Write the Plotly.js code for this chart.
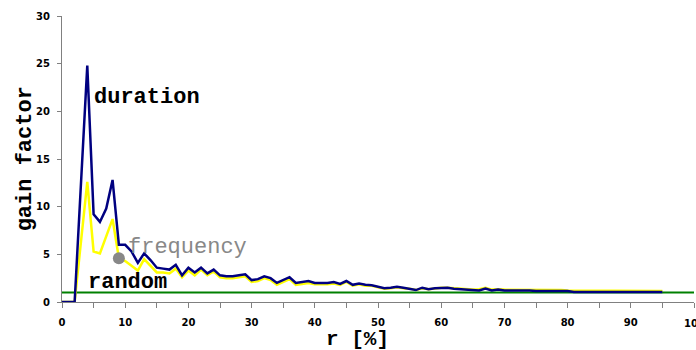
<!DOCTYPE html>
<html>
<head>
<meta charset="utf-8">
<script src="https://cdn.plot.ly/plotly-3.0.1.min.js"></script>
<style>html,body{margin:0;padding:0;background:#fff;}#chart{width:696px;height:350px;}</style>
</head>
<body>
<div id="chart"></div>
<script>
// r [%] values
const r = [0,1,2,4,5,6,7,8,9,10,11,12,13,14,15,16,17,18,19,20,21,22,23,24,25,26,27,28,29,30,
  31,32,33,34,35,36,37,38,39,40,41,42,43,44,45,46,47,48,49,50,51,52,53,54,55,56,57,58,59,60,
  61,62,63,64,65,66,67,68,69,70,71,72,73,74,75,76,77,78,79,80,81,82,83,84,85,86,87,88,89,90,
  91,92,93,94,95];
const duration = [0,0,0,24.8,9.2,8.4,9.8,12.8,6.0,6.0,5.3,4.1,5.1,4.4,3.6,3.5,3.4,3.9,2.8,3.6,3.1,3.6,3.0,3.4,2.8,2.7,2.7,2.8,2.9,2.3,
  2.4,2.7,2.5,2.0,2.3,2.6,2.0,2.1,2.2,2.0,2.0,2.0,2.1,1.9,2.2,1.8,1.95,1.8,1.75,1.6,1.45,1.5,1.6,1.5,1.4,1.25,1.5,1.35,1.45,1.5,
  1.5,1.4,1.35,1.3,1.2,1.2,1.4,1.2,1.3,1.2,1.2,1.2,1.25,1.2,1.15,1.15,1.15,1.15,1.15,1.15,1.05,1.05,1.05,1.05,1.05,1.05,1.05,1.1,1.1,1.05,
  1.05,1.05,1.05,1.05,1.05];
const frequency = [0,0,0,12.6,5.3,5.1,6.9,8.7,4.6,4.3,3.8,3.3,4.5,3.8,3.1,3.1,3.0,3.5,2.6,3.3,2.8,3.4,2.8,3.2,2.6,2.5,2.5,2.6,2.7,2.1,
  2.2,2.5,2.3,1.8,2.1,2.4,1.8,1.9,2.0,1.85,1.85,1.85,1.95,1.8,2.1,1.7,1.85,1.7,1.7,1.55,1.4,1.45,1.55,1.45,1.4,1.25,1.45,1.35,1.45,1.5,
  1.5,1.45,1.4,1.35,1.3,1.35,1.5,1.3,1.35,1.3,1.3,1.3,1.3,1.3,1.25,1.25,1.25,1.25,1.25,1.2,1.2,1.2,1.2,1.2,1.2,1.2,1.15,1.2,1.2,1.15,
  1.15,1.15,1.15,1.15,1.15];
const randomX = [0, 100];
const randomY = [1, 1];
const highlightIndex = 8; // frequency point at r = 9
const xTickVals = [0,5,10,15,20,25,30,35,40,45,50,55,60,65,70,75,80,85,90,95,100];
const xTickText = ['0','','10','','20','','30','','40','','50','','60','','70','','80','','90','',''];
const lastTickLabel = '100';
const yTickVals = [0,5,10,15,20,25,30];

const mono = '"Liberation Mono", "Courier New", Courier, monospace';
const tickFont = {family: '"DejaVu Sans", Verdana, sans-serif', size: 10, color: '#000', weight: 'bold'};
const traces = [
  {x: randomX, y: randomY, mode: 'lines', line: {color: '#008000', width: 2}, hoverinfo: 'skip'},
  {x: r, y: frequency, mode: 'lines', line: {color: '#ffff00', width: 2.5}},
  {x: r, y: duration, mode: 'lines', line: {color: '#000080', width: 2.5}},
  {x: [r[highlightIndex]], y: [frequency[highlightIndex]], mode: 'markers',
   marker: {color: '#888888', size: 12}}
];

const layout = {
  width: 696, height: 350,
  margin: {l: 62, r: 2, t: 16, b: 48},
  showlegend: false,
  paper_bgcolor: '#ffffff', plot_bgcolor: '#ffffff',
  xaxis: {range: [0, 100], tickvals: xTickVals, ticktext: xTickText, ticks: 'outside', ticklen: 5,
    tickcolor: '#808080', showline: true, linecolor: '#808080', linewidth: 1, showgrid: false, zeroline: false,
    ticklabelstandoff: 6, tickfont: tickFont, fixedrange: true},
  yaxis: {range: [0, 30], tickvals: yTickVals, ticks: 'outside', ticklen: 4,
    tickcolor: '#808080', showline: true, linecolor: '#808080', linewidth: 1, showgrid: false, zeroline: false,
    ticklabelstandoff: 5, tickfont: tickFont, fixedrange: true},
  annotations: [
    {x: 100, y: -0.074, xref: 'x', yref: 'paper', text: lastTickLabel, showarrow: false,
     xanchor: 'center', yanchor: 'middle', font: tickFont},
    {x: 4.75, y: 21.4, xref: 'x', yref: 'y', text: 'duration', showarrow: false, xanchor: 'left', yanchor: 'middle',
     font: {family: mono, size: 22, color: '#000', weight: 'bold'}},
    {x: 10.1, y: 5.7, xref: 'x', yref: 'y', text: 'frequency', showarrow: false, xanchor: 'left', yanchor: 'middle',
     font: {family: mono, size: 22, color: '#888888'}},
    {x: 3.8, y: 2.0, xref: 'x', yref: 'y', text: 'random', showarrow: false, xanchor: 'left', yanchor: 'middle',
     font: {family: mono, size: 22, color: '#000', weight: 'bold'}},
    {x: -0.058, y: 0.5, xref: 'paper', yref: 'paper', text: 'gain factor', showarrow: false, textangle: -90,
     xanchor: 'center', yanchor: 'middle', font: {family: mono, size: 22, color: '#000', weight: 'bold'}},
    {x: 0.467, y: -0.13, xref: 'paper', yref: 'paper', text: 'r [%]', showarrow: false,
     xanchor: 'center', yanchor: 'middle', font: {family: mono, size: 21, color: '#000', weight: 'bold'}}
  ]
};
Plotly.newPlot('chart', traces, layout, {displayModeBar: false, staticPlot: true});
</script>
</body>
</html>
